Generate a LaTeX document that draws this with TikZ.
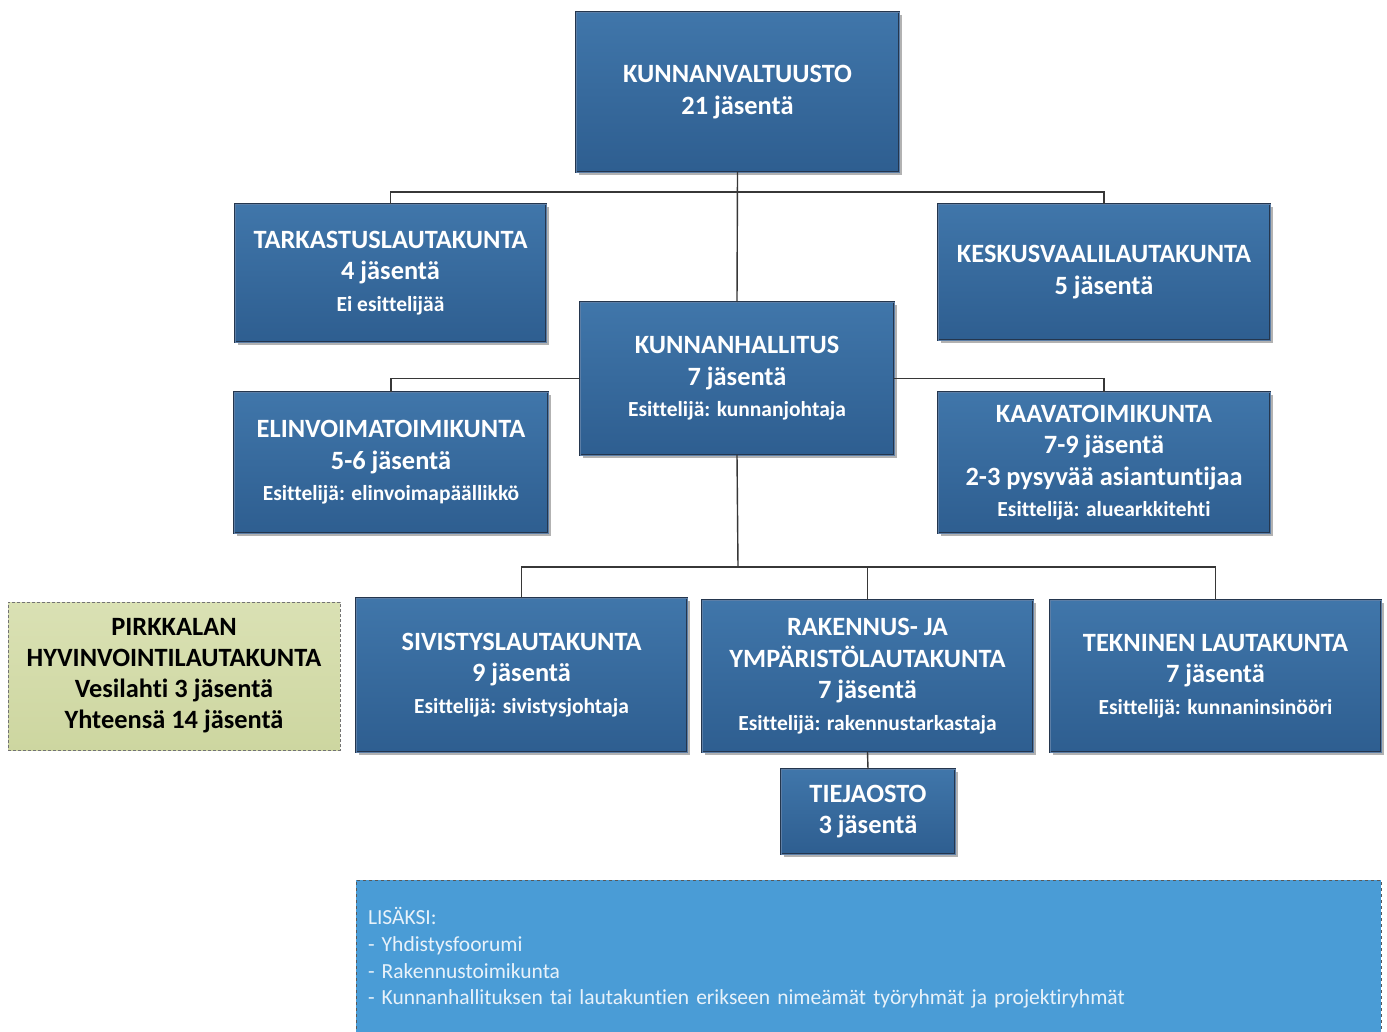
\documentclass[tikz,border=0pt]{standalone}
\usepackage{fontspec}
\setmainfont{Carlito}[Ligatures=NoCommon]
\usetikzlibrary{shadows}
\definecolor{boxtop}{RGB}{64,118,170}
\definecolor{boxbot}{RGB}{46,94,144}
\definecolor{boxline}{RGB}{36,54,78}
\definecolor{boxinner}{RGB}{92,126,166}
\definecolor{conn}{RGB}{55,55,55}
\definecolor{greentop}{RGB}{218,225,180}
\definecolor{greenbot}{RGB}{205,214,160}
\definecolor{lisfill}{RGB}{74,156,214}
\definecolor{listext}{RGB}{232,242,250}
\newcommand\smtxt{\fontsize{21.5}{31.5}\selectfont}
\begin{document}
\begin{tikzpicture}[x=1pt,y=-1pt,
  orgbox/.style={draw=boxline, line width=0.9pt, double=boxinner, double distance=0.9pt,
    top color=boxtop, bottom color=boxbot, text=white,
    font=\bfseries\fontsize{26.4}{31.5}\selectfont, align=center,
    inner sep=0pt, outer sep=0pt,
    drop shadow={shadow xshift=3pt, shadow yshift=-3pt, fill=black, opacity=0.3}},
  greenbox/.style={draw=black!55, densely dashed, line width=0.7pt,
    top color=greentop, bottom color=greenbot, text=black,
    font=\bfseries\fontsize{26.4}{31}\selectfont, align=center,
    inner sep=0pt, outer sep=0pt},
  lisbox/.style={draw=black!65, dashed, line width=0.8pt, fill=lisfill, text=listext,
    font=\fontsize{21.5}{26.7}\selectfont, align=left,
    inner xsep=12pt, inner ysep=0pt, outer sep=0pt},
  conline/.style={draw=conn, line width=1.4pt}
]
\clip (0,0) rectangle (1387,1032);
\fill[white] (0,0) rectangle (1387,1032);

% nodes
\node[orgbox, minimum width=323pt, minimum height=160pt] (kv) at (737.5,92)
  {KUNNANVALTUUSTO\\21 jäsentä};
\node[orgbox, minimum width=311pt, minimum height=138pt] (tark) at (390.5,273)
  {TARKASTUSLAUTAKUNTA\\4 jäsentä\\{\smtxt Ei esittelijää}};
\node[orgbox, minimum width=332pt, minimum height=136pt] (kesk) at (1104,272)
  {KESKUSVAALILAUTAKUNTA\\5 jäsentä};
\node[orgbox, minimum width=314pt, minimum height=153pt] (kh) at (737,378.5)
  {KUNNANHALLITUS\\7 jäsentä\\{\smtxt Esittelijä: kunnanjohtaja}};
\node[orgbox, minimum width=314pt, minimum height=141pt] (elin) at (391,462.5)
  {ELINVOIMATOIMIKUNTA\\5-6 jäsentä\\{\smtxt Esittelijä: elinvoimapäällikkö}};
\node[orgbox, minimum width=332pt, minimum height=141pt] (kaava) at (1104,462.5)
  {KAAVATOIMIKUNTA\\7-9 jäsentä\\2-3 pysyvää asiantuntijaa\\{\smtxt Esittelijä: aluearkkitehti}};
\node[greenbox, minimum width=332pt, minimum height=148pt] (pirk) at (174,676)
  {PIRKKALAN\\HYVINVOINTILAUTAKUNTA\\Vesilahti 3 jäsentä\\Yhteensä 14 jäsentä};
\node[orgbox, minimum width=331pt, minimum height=154pt] (siv) at (521.5,675)
  {SIVISTYSLAUTAKUNTA\\9 jäsentä\\{\smtxt Esittelijä: sivistysjohtaja}};
\node[orgbox, minimum width=331pt, minimum height=152pt] (rak) at (867.5,676)
  {RAKENNUS- JA\\YMPÄRISTÖLAUTAKUNTA\\7 jäsentä\\{\smtxt Esittelijä: rakennustarkastaja}};
\node[orgbox, minimum width=331pt, minimum height=152pt] (tek) at (1215.5,676)
  {TEKNINEN LAUTAKUNTA\\7 jäsentä\\{\smtxt Esittelijä: kunnaninsinööri}};
\node[orgbox, minimum width=174pt, minimum height=85pt] (tie) at (868,811.5)
  {TIEJAOSTO\\3 jäsentä};
\node[lisbox, minimum width=1025pt, minimum height=156pt, text width=1001pt] (lis) at (868.5,958)
  {LISÄKSI:\\- Yhdistysfoorumi\\- Rakennustoimikunta\\- Kunnanhallituksen tai lautakuntien erikseen nimeämät työryhmät ja projektiryhmät};

% junctions
\coordinate (j1) at (738,192);
\coordinate (j2) at (738,567);

% connectors
\draw[conline] (kv.south) -- (kh.north);
\draw[conline] (tark.north) -- (tark.north |- j1) -- (kesk.north |- j1) -- (kesk.north);
\draw[conline] (kh.west) -| (elin.north);
\draw[conline] (kh.east) -| (kaava.north);
\draw[conline] (kh.south) -- (j2);
\draw[conline] (siv.north) |- (j2) -| (tek.north);
\draw[conline] (rak.north) -- (rak.north |- j2);
\draw[conline] (rak.south) -- (tie.north);
\end{tikzpicture}
\end{document}
